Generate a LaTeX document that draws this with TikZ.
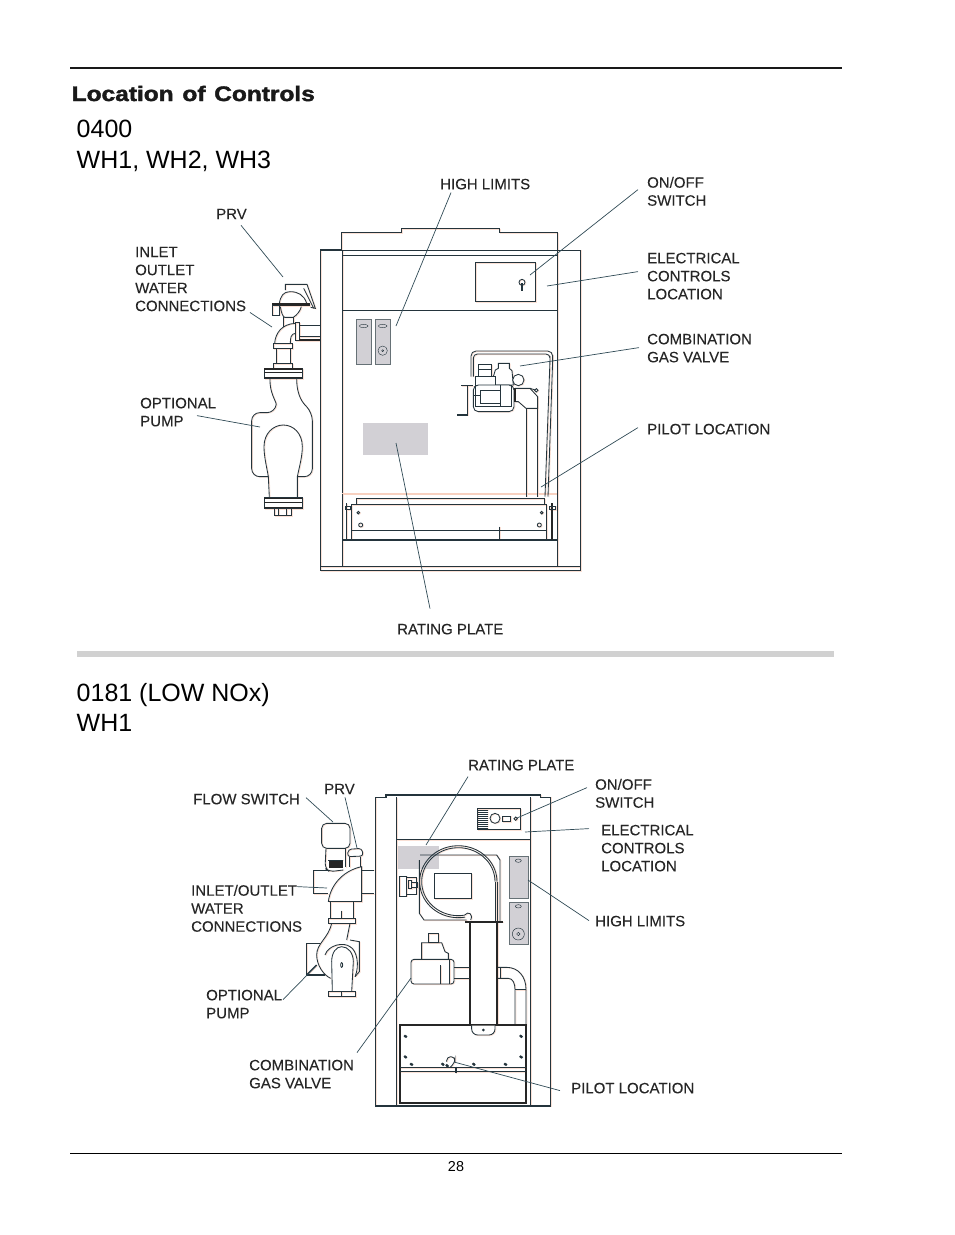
\documentclass[tikz,border=0pt]{standalone}
\usepackage{fontspec}
\setmainfont{Liberation Sans}
\newfontfamily\titlefont{Liberation Sans Bold}[FakeBold=1.8]
\newfontfamily\labelfont{Liberation Sans}[FakeBold=0.12]
\definecolor{lineink}{HTML}{24343C}
\definecolor{ghost}{HTML}{FAE0D5}
\definecolor{plate}{HTML}{D2D0D5}
\definecolor{leaderink}{HTML}{2F4A55}
\definecolor{labelink}{HTML}{262626}
\tikzset{
  ml/.style={draw=lineink,line width=0.85pt},
  tk/.style={draw=lineink,line width=1.4pt},
  bk/.style={draw=black!85,line width=1.8pt},
  gf/.style={fill=plate,draw=lineink!70,line width=0.5pt},
  gp/.style={fill=plate},
  zoomed/.style={x=0.33333pt,y=-0.33333pt},
  lbl/.style={anchor=north west,inner sep=0pt,align=left,text=labelink,font=\labelfont\fontsize{15}{18}\selectfont},
  ldr/.style={draw=leaderink,line width=0.7pt},
  hdr/.style={anchor=north west,inner sep=0pt,align=left,text=black,font=\fontsize{25}{30.5}\selectfont},
}
\newcommand{\machineA}{%
\begin{scope}[shift={(240,220)},zoomed]
 % cabinet
 \path[ml] (240,90) rectangle (1020,1052);
 \path[ml] (240,1040) -- (1020,1040);
 \path[ml] (305,90) -- (305,38) -- (485,38) -- (485,25) -- (778,25) -- (778,38) -- (952,38) -- (952,90);
 \path[ml] (307,90) -- (307,1040) (952,90) -- (952,1040);
 \path[ml] (307,105) -- (952,105) (307,270) -- (952,270);
 \path[tk] (240,90) -- (305,90);
 % control box
 \path[ml] (707,127) rectangle (887,245);
 \path[ml] (846,187) circle (9);
 \path[tk] (846,190) -- (846,212);
 % limits
 \path[gf] (350,298) rectangle (393,433);
 \path[gf] (407,298) rectangle (450,433);
 \path[ml,line width=0.4pt] (371,318) ellipse (13 and 5) (428,318) ellipse (13 and 5) (428,392) circle (14) (428,392) circle (3);
 % rating plate
 \path[gp] (368,610) rectangle (565,705);
 % lower panel
 \path[ml,draw=ghost!150!white,line width=0.6pt] (307,820) -- (952,820);
 \path[ml] (348,853) -- (348,835) -- (912,835) -- (912,853);
 \path[ml] (333,960) -- (333,853) -- (920,853) -- (920,960);
 \path[ml,line width=0.5pt] (333,930) -- (920,930) (778,920) -- (778,960);
 \path[tk] (307,960) -- (952,960);
 \path[ml] (320,850) -- (320,960);
 \path[bk] (936,850) -- (936,960);
 \path[ml] (927,858) rectangle (945,868) (315,858) rectangle (332,868);
 \path[ml] (355,878) circle (4) (905,878) circle (4) (362,915) circle (6) (898,915) circle (6);
 % gas valve and pipes
 \path[ml,rounded corners=5pt] (693,470) -- (693,393) -- (938,393) -- (938,420) -- (924,830);
 \path[ml,rounded corners=4pt] (700,470) -- (700,402) -- (930,402) -- (930,420) -- (915,830);
 \path[ml,fill=white] (715,433) rectangle (755,470) (715,447) -- (755,447);
 \path[ml,fill=white] (760,470) -- (766,450) -- (775,445) -- (775,430) -- (808,430) -- (808,445) -- (816,452) -- (820,495) -- (760,495) -- cycle;
 \path[ml,fill=white] (705,470) rectangle (765,495);
 \path[ml,fill=white] (835,480) circle (17);
 \path[ml,fill=white,rounded corners=5pt] (700,495) -- (822,495) -- (822,575) -- (700,575) -- cycle;
 \path[ml] (706,495) -- (706,560) -- (815,560) -- (815,495) (780,495) -- (780,560) (700,525) -- (720,525);
 \path[ml] (722,510) rectangle (780,550);
 \path[ml] (825,505) -- (870,505) -- (893,530) -- (893,565) -- (858,565) -- (835,545) -- (825,545);
 \path[bk] (825,505) -- (825,545);
 \path[ml] (870,505) -- (889,511);
 \path[ml,fill=white] (889,511) circle (5);
 \path[ml] (858,565) -- (858,830) (893,565) -- (893,830);
 \path[tk] (652,585) -- (682,585) -- (682,497) -- (663,497);
 \path[tk] (682,497) -- (700,497);
 % left plumbing: PRV
 \path[ml] (136,210) -- (136,193) -- (201,193) -- (226,265) -- (212,262);
 \path[ml] (191,205) -- (221,265);
 \path[ml] (118,250) .. controls (122,228) and (130,215) .. (150,215) .. controls (175,215) and (192,225) .. (200,250);
 \path[bk,line width=3pt] (96,254) -- (211,254);
 \path[ml] (98,257) rectangle (118,285);
 \path[ml] (121,260) .. controls (124,278) and (128,290) .. (134,292) -- (160,292) .. controls (170,285) and (180,275) .. (184,260);
 \path[ml] (131,292) -- (131,320) (161,292) -- (161,310);
 % elbow and stub
 \path[ml] (104,370) .. controls (106,340) and (125,312) .. (166,310);
 \path[ml] (151,370) .. controls (151,352) and (153,342) .. (166,340);
 \path[ml] (166,308) rectangle (178,362);
 \path[ml] (178,315) -- (240,315) (178,350) -- (240,350);
 \path[bk,line width=2pt] (178,360) -- (240,360);
 % neck
 \path[ml] (101,370) rectangle (156,385);
 \path[ml] (108,385) -- (108,430) (151,385) -- (151,430);
 \path[ml] (101,430) rectangle (158,445);
 % flanges
 \path[ml,fill=white] (73,445) rectangle (187,475);
 \path[bk,line width=1.1pt] (73,447) -- (187,447) (73,458) -- (187,458) (73,473) -- (187,473);
 \path[ml,fill=white] (73,832) rectangle (187,865);
 \path[bk,line width=1.1pt] (73,835) -- (187,835) (73,848) -- (187,848) (73,862) -- (187,862);
 \path[ml] (102,865) rectangle (155,887) (115,865) -- (115,887) (140,865) -- (140,887);
 % pump body
 \path[ml,rounded corners=8pt] (90,475) .. controls (88,520) and (110,545) .. (105,578) -- (35,578) -- (35,770) -- (85,770);
 \path[ml,rounded corners=8pt] (170,475) .. controls (170,530) and (190,550) .. (217,578) -- (217,770) -- (172,770);
 \path[ml] (88,832) -- (85,770) .. controls (80,740) and (72,710) .. (72,680) .. controls (72,640) and (100,615) .. (130,615) .. controls (160,615) and (187,640) .. (187,680) .. controls (187,710) and (178,740) .. (172,770) -- (172,832);
\end{scope}}
\newcommand{\machineB}{%
\begin{scope}[shift={(300,790)},zoomed]
 % cabinet
 \path[tk] (226,948) -- (226,22) -- (258,22) -- (258,15) -- (722,15) -- (722,22) -- (752,22) -- (752,948) -- cycle;
 \path[ml] (290,22) -- (290,948) (690,22) -- (690,948);
 \path[ml] (290,148) -- (690,148);
 % control panel
 \path[ml] (533,55) rectangle (660,118);
 \foreach \hy in {60,66,...,114} {\path[ml,line width=0.4pt] (535,\hy) -- (565,\hy);}
 \path[ml] (585,85) circle (15) (647,86) circle (5);
 \path[ml] (608,78) rectangle (632,95);
 % rating plate
 \path[gp] (295,167) rectangle (418,237);
 % blower
 \path[ml] (360,195) -- (590,195) -- (600,210) -- (600,395);
 \path[ml] (358,210) -- (358,370) -- (372,390) -- (500,390);
 \path[ml] (495.1,381.4) arc[start angle=80,end angle=360,x radius=116,y radius=108];
 \path[ml] (494.1,375.4) arc[start angle=80,end angle=360,x radius=110,y radius=102];
 \path[ml] (591,275) -- (591,392) (585,275) -- (585,392);
 \path[ml] (494,375) .. controls (505,362) and (520,372) .. (512,390);
 \path[ml,fill=white] (403,250) rectangle (515,325);
 % igniter
 \path[ml] (298,258) rectangle (320,318) (320,262) rectangle (350,312);
 \path[ml] (325,270) rectangle (335,295) (335,278) rectangle (352,292);
 % limits
 \path[gf] (628,200) rectangle (685,326);
 \path[gf] (628,336) rectangle (685,464);
 \path[ml,line width=0.45pt] (655,212) ellipse (9 and 5) (655,349) ellipse (9 and 5) (655,432) circle (18) (655,432) circle (5);
 % flue
 \path[ml] (592,532) -- (620,532) .. controls (655,532) and (678,560) .. (678,598) -- (678,705);
 \path[ml] (592,565) -- (625,565) .. controls (638,565) and (645,580) .. (645,598) -- (645,705);
 \path[ml] (600,532) -- (600,565) (645,598) -- (678,598);
 \path[bk] (495,395) -- (610,395);
 \path[bk] (510,395) -- (510,705) (592,395) -- (592,705);
 % burner box
 \path[bk] (300,705) rectangle (678,938);
 \path[ml] (300,832) -- (678,832) (300,845) -- (678,845);
 \path[ml,fill=white,rounded corners=6pt] (515,707) -- (515,735) -- (585,735) -- (585,707);
 \foreach \dx/\dy in {550/720,315/738,662/738,315/800,662/800,333/822,427/822,520/822,615/822,440/826}
   {\path[fill=lineink] (\dx,\dy) circle (4.5);}
 \path[ml,rounded corners=4pt] (440,815) -- (440,800) -- (465,800) -- (465,818) -- (450,832);
 \path[tk] (468,830) -- (468,850);
 % gas valve
 \path[ml] (462,532) -- (510,532) (462,565) -- (510,565);
 \path[ml] (385,430) rectangle (415,458);
 \path[ml] (365,508) -- (365,458) -- (425,458) -- (435,485) -- (445,490) -- (445,508);
 \path[ml,rounded corners=3pt] (333,508) rectangle (462,582);
 \path[ml] (420,525) -- (420,582) (448,508) -- (448,582);
 % left plumbing
 \path[ml,rounded corners=5pt] (65,175) -- (65,100) -- (150,100) -- (150,175) -- cycle;
 \path[fill=black!85] (88,210) rectangle (125,233);
 \path[ml,rounded corners=5pt] (78,175) -- (75,235) -- (88,245) -- (130,240);
 \path[ml] (135,175) -- (135,232);
 \path[ml] (85,210) -- (130,210);
 \path[ml,rounded corners=3pt] (145,178) -- (185,175) -- (190,198) -- (142,200) -- cycle;
 \path[ml] (148,200) -- (148,232) (182,200) -- (182,232);
 \path[ml] (90,240) -- (40,240) -- (40,310) -- (85,310);
 \path[ml] (185,240) -- (222,240) (185,310) -- (222,310);
 \path[ml] (85,335) .. controls (92,280) and (135,240) .. (185,230) -- (185,335);
 \path[ml] (85,335) -- (185,335);
 \path[ml] (90,337) -- (90,385) (160,337) -- (160,385) (125,362) -- (125,385);
 \path[ml] (85,385) rectangle (165,400);
 \path[ml] (95,400) .. controls (85,445) and (50,460) .. (50,495) .. controls (50,525) and (70,555) .. (92,565);
 \path[ml] (150,400) -- (140,450);
 \path[ml] (75,495) .. controls (85,465) and (130,455) .. (150,470) .. controls (170,480) and (180,525) .. (165,560);
 \path[ml] (150,450) -- (178,455) -- (178,545) -- (165,560);
 \path[tk] (60,460) -- (20,460) -- (20,555) -- (75,555);
 \path[tk] (20,555) -- (50,525);
 \path[ml,fill=white] (97,605) -- (95,515) .. controls (95,488) and (108,470) .. (125,470) .. controls (145,470) and (160,490) .. (160,515) -- (155,605);
 \path[ml] (85,605) rectangle (165,620) (125,605) -- (125,620);
 \path[ml] (125,525) ellipse (3 and 7);
\end{scope}}
\begin{document}
\begin{tikzpicture}[x=1pt,y=-1pt]
\useasboundingbox (0,0) rectangle (954,1235);
% page furniture
\coordinate (topL) at (70,67.5); \coordinate (topR) at (842,67.5);
\draw[line width=2pt,black!90] (topL) -- (topR);
\coordinate (botL) at (70,1153.5); \coordinate (botR) at (842,1153.5);
\draw[line width=0.9pt,black] (botL) -- (botR);
\fill[black!18] (77,651) rectangle (834,657);
\node[anchor=base west,inner sep=0pt,xscale=1.165,text=black!90,font=\titlefont\fontsize{21}{24}\selectfont] (title) at (71.5,101) {Location\hspace{0.08em} of\hspace{0.08em} Controls};
\node[hdr] (h1) at (76.5,120) {0400\\WH1, WH2, WH3};
\node[hdr] (h2) at (76.5,683) {0181 (LOW NOx)\\WH1};
\node[anchor=center,inner sep=0pt,font=\fontsize{14.4}{16}\selectfont] (pg) at (456,1166.5) {28};
% ghost of the print registration, then the drawings
\begin{scope}[xshift=0.9pt,yshift=-0.6pt,
   ml/.style={draw=ghost,line width=0.8pt},tk/.style={draw=ghost,line width=1.1pt},
   bk/.style={draw=ghost,line width=1.1pt},gf/.style={draw=none},gp/.style={}]
 \machineA \machineB
\end{scope}
\machineA
\machineB
% labels, upper drawing
\node[lbl] (aPrv) at (216,208.6) {PRV};
\node[lbl] (aInlet) at (135,246.6) {INLET\\OUTLET\\WATER\\CONNECTIONS};
\node[lbl] (aPump) at (140,397.6) {OPTIONAL\\PUMP};
\node[lbl] (aRate) at (397,623.6) {RATING PLATE};
\node[lbl] (aHigh) at (440,178.6) {HIGH LIMITS};
\node[lbl] (aSwitch) at (647,176.6) {ON/OFF\\SWITCH};
\node[lbl] (aElec) at (647,252.6) {ELECTRICAL\\CONTROLS\\LOCATION};
\node[lbl] (aGas) at (647,333.6) {COMBINATION\\GAS VALVE};
\node[lbl] (aPilot) at (647,423.6) {PILOT LOCATION};
\coordinate (tPrv) at (283,277);
\coordinate (tInlet) at (272,327);
\coordinate (tPump) at (260,427);
\coordinate (tRate) at (396,443);
\coordinate (tHigh) at (396,326);
\coordinate (tSwitch) at (530,275);
\coordinate (tElec) at (547,286);
\coordinate (tGas) at (520,366);
\coordinate (tPilot) at (541,487);
\draw[ldr] ([shift={(25,6)}]aPrv.south west) -- (tPrv);
\draw[ldr] ([shift={(115,1)}]aInlet.south west) -- (tInlet);
\draw[ldr] ([shift={(57,-11)}]aPump.south west) -- (tPump);
\draw[ldr] ([shift={(33,-15)}]aRate.north west) -- (tRate);
\draw[ldr] ([shift={(11,3)}]aHigh.south west) -- (tHigh);
\draw[ldr] ([shift={(-9,13)}]aSwitch.north west) -- (tSwitch);
\draw[ldr] ([shift={(-9,19)}]aElec.north west) -- (tElec);
\draw[ldr] ([shift={(-8,14)}]aGas.north west) -- (tGas);
\draw[ldr] ([shift={(-9,4)}]aPilot.north west) -- (tPilot);
% labels, lower drawing
\node[lbl] (bRate) at (468,759.6) {RATING PLATE};
\node[lbl] (bFlow) at (193,793.6) {FLOW SWITCH};
\node[lbl] (bPrv) at (324,783.6) {PRV};
\node[lbl] (bSwitch) at (595,778.6) {ON/OFF\\SWITCH};
\node[lbl] (bElec) at (601,824.6) {ELECTRICAL\\CONTROLS\\LOCATION};
\node[lbl] (bHigh) at (595,915.6) {HIGH LIMITS};
\node[lbl] (bInlet) at (191,884.6) {INLET/OUTLET\\WATER\\CONNECTIONS};
\node[lbl] (bPump) at (206,989.6) {OPTIONAL\\PUMP};
\node[lbl] (bGas) at (249,1059.6) {COMBINATION\\GAS VALVE};
\node[lbl] (bPilot) at (571,1082.6) {PILOT LOCATION};
\coordinate (uRate) at (426,845);
\coordinate (uFlow) at (333,822);
\coordinate (uPrv) at (357,848);
\coordinate (uSwitch) at (517,818);
\coordinate (uElec) at (525,832);
\coordinate (uHigh) at (528,880);
\coordinate (uInlet) at (327,888);
\coordinate (uPump) at (316,966);
\coordinate (uGas) at (411,978);
\coordinate (uPilot) at (454,1062);
\draw[ldr] ([shift={(0,6)}]bRate.south west) -- (uRate);
\draw[ldr] ([shift={(113,-7)}]bFlow.south west) -- (uFlow);
\draw[ldr] ([shift={(21,3)}]bPrv.south west) -- (uPrv);
\draw[ldr] ([shift={(-8,9)}]bSwitch.north west) -- (uSwitch);
\draw[ldr] ([shift={(-12,4)}]bElec.north west) -- (uElec);
\draw[ldr] ([shift={(-6,5)}]bHigh.north west) -- (uHigh);
\draw[ldr] ([shift={(106,2)}]bInlet.north west) -- (uInlet);
\draw[ldr] ([shift={(77,10)}]bPump.north west) -- (uPump);
\draw[ldr] ([shift={(108,-7)}]bGas.north west) -- (uGas);
\draw[ldr] ([shift={(-11,8)}]bPilot.north west) -- (uPilot);
\end{tikzpicture}
\end{document}
